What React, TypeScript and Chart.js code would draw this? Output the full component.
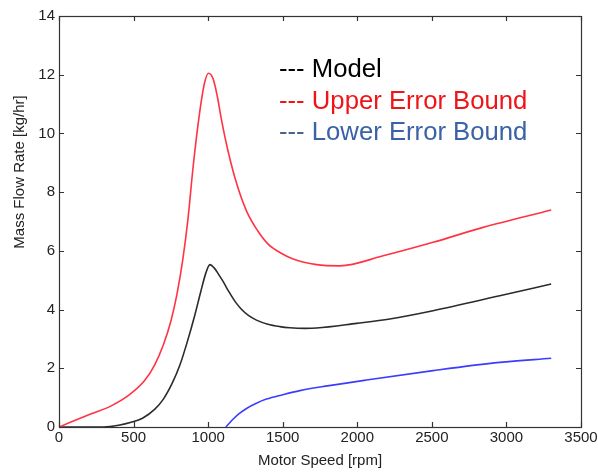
import React, { useEffect, useRef } from 'react';
import { Chart, registerables } from 'chart.js';

Chart.register(...registerables);

// ---- data ----
const modelRpm = [0, 300, 400, 484, 560, 641, 700, 760, 810, 860, 910, 950, 985, 1012, 1040, 1070, 1101, 1140, 1180, 1220, 1270, 1324, 1400, 1480, 1548, 1650, 1727, 1995, 2218, 2508, 2955, 3300];
const modelFlow = [0, 0, 0.06, 0.16, 0.3, 0.6, 0.95, 1.5, 2.1, 2.9, 3.8, 4.6, 5.25, 5.53, 5.42, 5.2, 4.95, 4.6, 4.28, 4.03, 3.8, 3.64, 3.5, 3.42, 3.38, 3.36, 3.37, 3.53, 3.68, 3.96, 4.47, 4.87];

const upperRpm = [0, 216, 350, 473, 574, 640, 700, 750, 790, 830, 865, 900, 940, 975, 1002, 1034, 1060, 1090, 1123, 1179, 1257, 1330, 1402, 1490, 1570, 1727, 1882, 2173, 2508, 2843, 3300];
const upperFlow = [0, 0.45, 0.72, 1.1, 1.58, 2.1, 2.8, 3.6, 4.5, 5.7, 7.1, 8.9, 10.6, 11.7, 12.05, 11.85, 11.3, 10.45, 9.63, 8.5, 7.36, 6.7, 6.23, 5.92, 5.72, 5.53, 5.49, 5.83, 6.29, 6.8, 7.39];

const lowerRpm = [1119, 1140, 1170, 1210, 1260, 1320, 1391, 1500, 1615, 1800, 2062, 2508, 2955, 3300];
const lowerFlow = [0, 0.12, 0.28, 0.46, 0.64, 0.8, 0.95, 1.1, 1.24, 1.4, 1.6, 1.92, 2.2, 2.34];

const xMin = 0;
const xMax = 3500;
const xStep = 500;
const yMin = 0;
const yMax = 14;
const yStep = 2;

const xTitle = 'Motor Speed [rpm]';
const yTitle = 'Mass Flow Rate [kg/hr]';
const legendLabels = ['Model', 'Upper Error Bound', 'Lower Error Bound'];
const legendTextColors = ['#000000', '#f01418', '#3a62a7'];
const legendDashColors = ['#000000', '#f01418', '#4a6387'];

const FONT = '"Liberation Sans", Arial, sans-serif';
const AXIS_COLOR = '#333333';
const TEXT_COLOR = '#222222';

const toPoints = (xs: number[], ys: number[]) => xs.map((x, i) => ({ x, y: ys[i] }));

const framePlugin = {
  id: 'frame',
  afterDraw(chart: any) {
    const { ctx, chartArea: a, scales } = chart;
    const xs = scales.x;
    const ys = scales.y;
    ctx.save();
    ctx.strokeStyle = AXIS_COLOR;
    ctx.lineWidth = 1.2;
    ctx.strokeRect(a.left + 0.5, a.top + 0.5, a.right - a.left, a.bottom - a.top);
    const tl = 5;
    ctx.beginPath();
    for (const t of xs.ticks) {
      const px = Math.round(xs.getPixelForValue(t.value)) + 0.5;
      ctx.moveTo(px, a.bottom);
      ctx.lineTo(px, a.bottom - tl);
      ctx.moveTo(px, a.top);
      ctx.lineTo(px, a.top + tl);
    }
    for (const t of ys.ticks) {
      const py = Math.round(ys.getPixelForValue(t.value)) + 0.5;
      ctx.moveTo(a.left, py);
      ctx.lineTo(a.left + tl, py);
      ctx.moveTo(a.right, py);
      ctx.lineTo(a.right - tl, py);
    }
    ctx.stroke();

    // y-axis title
    ctx.save();
    ctx.translate(20, a.top + 156);
    ctx.rotate(-Math.PI / 2);
    ctx.font = `15px ${FONT}`;
    ctx.fillStyle = TEXT_COLOR;
    ctx.textAlign = 'center';
    ctx.textBaseline = 'middle';
    ctx.fillText(yTitle, 0, 0);
    ctx.restore();

    // legend text
    ctx.font = `25.7px ${FONT}`;
    ctx.textAlign = 'left';
    ctx.textBaseline = 'alphabetic';
    const lx = a.left + 220;
    const dashW = ctx.measureText('--- ').width;
    legendLabels.forEach((lab, i) => {
      const by = a.top + 61 + i * 31.5;
      ctx.fillStyle = legendDashColors[i];
      ctx.fillText('---', lx, by);
      ctx.fillStyle = legendTextColors[i];
      ctx.fillText(lab, lx + dashW, by);
    });
    ctx.restore();
  },
};

export default function App() {
  const ref = useRef<HTMLCanvasElement | null>(null);
  useEffect(() => {
    if (!ref.current) return;
    const lineDs = (label: string, data: any[], color: string) => ({
      label,
      data,
      showLine: true,
      borderColor: color,
      backgroundColor: color,
      borderWidth: 1.6,
      pointRadius: 0,
      pointHoverRadius: 0,
      cubicInterpolationMode: 'monotone' as const,
      fill: false,
    });
    const chart = new Chart(ref.current, {
      type: 'scatter',
      data: {
        datasets: [
          lineDs(legendLabels[1], toPoints(upperRpm, upperFlow), '#ff3344'),
          lineDs(legendLabels[0], toPoints(modelRpm, modelFlow), '#2b2b2b'),
          lineDs(legendLabels[2], toPoints(lowerRpm, lowerFlow), '#3c3cff'),
        ],
      },
      options: {
        responsive: false,
        animation: false,
        devicePixelRatio: 1,
        layout: { padding: { top: 16, right: 17, left: 0, bottom: 0 } },
        plugins: { legend: { display: false }, tooltip: { enabled: false } },
        scales: {
          x: {
            type: 'linear',
            min: xMin,
            max: xMax,
            ticks: {
              stepSize: xStep,
              padding: 0,
              maxRotation: 0,
              color: TEXT_COLOR,
              font: { family: FONT, size: 15, lineHeight: 1.4 },
              callback: (v: any) => String(v),
            },
            grid: { display: false, drawTicks: false },
            border: { display: false },
            title: { display: true, text: xTitle, color: TEXT_COLOR, font: { family: FONT, size: 15 }, padding: { top: 0, bottom: 4 } },
            afterFit: (s: any) => { s.height = 47; },
          },
          y: {
            type: 'linear',
            min: yMin,
            max: yMax,
            ticks: {
              stepSize: yStep,
              padding: 4,
              color: TEXT_COLOR,
              font: { family: FONT, size: 15 },
              callback: (v: any) => String(v),
            },
            grid: { display: false, drawTicks: false },
            border: { display: false },
            afterFit: (s: any) => { s.width = 59; },
          },
        },
      },
      plugins: [framePlugin],
    });
    return () => chart.destroy();
  }, []);
  return (
    <div style={{ position: 'absolute', left: 0, top: 0, width: 598, height: 474, background: '#fff' }}>
      <canvas ref={ref} width={598} height={474} style={{ display: 'block' }} />
    </div>
  );
}
